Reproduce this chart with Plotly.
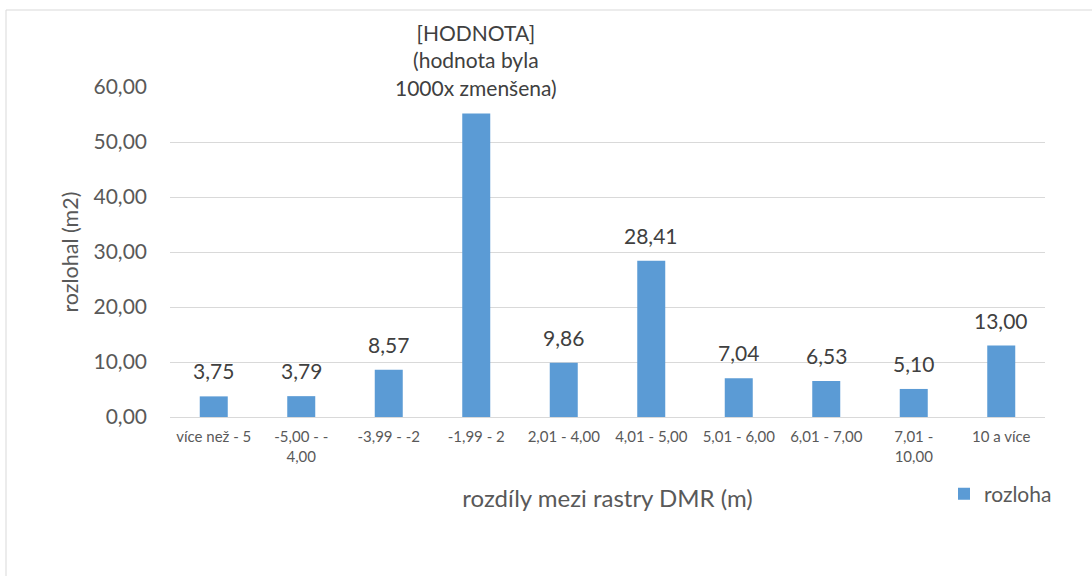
import plotly.graph_objects as go

categories = ["více než - 5", "-5,00 - -<br>4,00", "-3,99 - -2", "-1,99 - 2", "2,01 - 4,00",
              "4,01 - 5,00", "5,01 - 6,00", "6,01 - 7,00", "7,01 -<br>10,00", "10 a více"]
values = [3.75, 3.79, 8.57, 55.2, 9.86, 28.41, 7.04, 6.53, 5.10, 13.00]
labels = ["3,75", "3,79", "8,57", "[HODNOTA]<br>(hodnota byla<br>1000x zmenšena)", "9,86",
          "28,41", "7,04", "6,53", "5,10", "13,00"]
y_ticks = [0, 10, 20, 30, 40, 50, 60]
y_ticktext = ["0,00", "10,00", "20,00", "30,00", "40,00", "50,00", "60,00"]

FONT = "Lato, Open Sans, sans-serif"
GREY = "#595959"
BLUE = "#5B9BD5"

fig = go.Figure()
fig.add_trace(go.Bar(
    x=categories, y=values, name="rozloha",
    marker=dict(color=BLUE, line=dict(width=0)),
))

for c, v, t in zip(categories, values, labels):
    fig.add_annotation(x=c, y=v, text=t, showarrow=False, yanchor="bottom",
                       yshift=11, font=dict(family=FONT, size=21, color="#404040"))

fig.update_layout(
    width=1092, height=576,
    margin=dict(l=170, r=47, t=87, b=159, autoexpand=False),
    paper_bgcolor="white", plot_bgcolor="white",
    font=dict(family=FONT, color=GREY),
    bargap=0.68,
    showlegend=True,
    legend=dict(x=(944 - 170) / 875, y=-0.234, xanchor="left", yanchor="middle",
                font=dict(family=FONT, size=21, color=GREY),
                itemwidth=30, bgcolor="rgba(0,0,0,0)"),
    xaxis=dict(
        tickfont=dict(family=FONT, size=15, color=GREY),
        showline=True, linecolor="#d9d9d9", linewidth=1,
        ticks="", showgrid=False, ticklabelstandoff=6,
        title=dict(text="rozdíly mezi rastry DMR (m)", font=dict(family=FONT, size=24, color=GREY), standoff=26),
    ),
    yaxis=dict(
        range=[0, 60], tickvals=y_ticks, ticktext=y_ticktext,
        tickfont=dict(family=FONT, size=21, color=GREY),
        gridcolor="#d9d9d9", gridwidth=1, zeroline=False,
        ticks="", ticklabelstandoff=22,
        title=dict(text="rozlohal (m2)", font=dict(family=FONT, size=21.5, color=GREY), standoff=8),
    ),
)

fig.add_shape(type="rect", xref="paper", yref="paper",
              x0=(6 - 170) / 875, x1=(1100 - 170) / 875,
              y0=(417 - 590) / 330, y1=(417 - 10) / 330,
              line=dict(color="#d9d9d9", width=1), layer="below")

fig.write_html("out.html")
